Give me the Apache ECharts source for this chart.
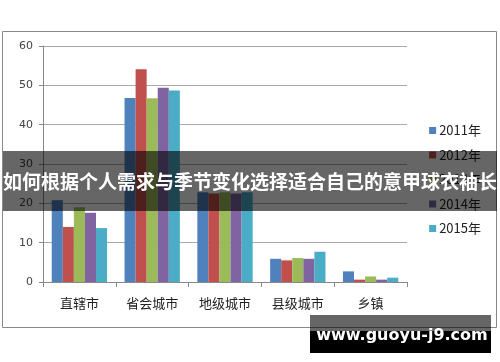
<!DOCTYPE html>
<html><head><meta charset="utf-8">
<script src="https://cdn.jsdelivr.net/npm/echarts@6/dist/echarts.min.js"></script>
<style>html,body{margin:0;padding:0;background:#fff}#c{width:500px;height:362px}</style>
</head><body><div id="c"></div>
<script>
const categories = ['直辖市','省会城市','地级城市','县级城市','乡镇'];
const seriesNames = ['2011年','2012年','2013年','2014年','2015年'];
const s2011 = [20.8, 46.8, 22.8, 5.9, 2.7];
const s2012 = [14.0, 54.1, 22.5, 5.5, 0.6];
const s2013 = [19.0, 46.7, 22.8, 6.1, 1.4];
const s2014 = [17.6, 49.4, 22.5, 5.9, 0.6];
const s2015 = [13.7, 48.7, 22.8, 7.7, 1.1];
const colors = ['#4F81BD','#C0504D','#9BBB59','#8064A2','#4BACC6'];
const titleText = '如何根据个人需求与季节变化选择适合自己的意甲球衣袖长';
const watermark = 'www.guoyu-j9.com';

const values = [s2011, s2012, s2013, s2014, s2015];
const chart = echarts.init(document.getElementById('c'), null, {renderer:'canvas'});
chart.setOption({
  animation: false,
  color: colors,
  grid: {left: 43, right: 93, top: 46, bottom: 80},
  legend: {
    orient: 'vertical', right: 14, top: 119,
    itemWidth: 7, itemHeight: 7, itemGap: 11.5,
    icon: 'rect',
    textStyle: {fontFamily: 'Noto Sans CJK SC', fontSize: 13, color: '#222', padding: [0,0,0,-2]},
    data: seriesNames
  },
  xAxis: {
    type: 'category', data: categories,
    axisLine: {lineStyle: {color: '#888'}},
    axisTick: {show: true, length: 5, lineStyle: {color: '#888'}},
    axisLabel: {fontFamily: 'Noto Sans CJK SC', fontSize: 13, color: '#222', margin: 15}
  },
  yAxis: {
    type: 'value', min: 0, max: 60, interval: 10,
    axisLine: {show: true, lineStyle: {color: '#888'}},
    axisTick: {show: true, length: 4, lineStyle: {color: '#888'}},
    axisLabel: {fontFamily: 'DejaVu Sans', fontSize: 11, color: '#444', margin: 10},
    splitLine: {lineStyle: {color: '#aaa'}}
  },
  series: values.map((v, i) => ({
    name: seriesNames[i], type: 'bar', data: v,
    barGap: '0%', barCategoryGap: '24%'
  })),
  graphic: [
    {type:'rect', z: 0, silent: true, shape:{x:2.5, y:31.5, width:494, height:296}, style:{fill:'none', stroke:'#888', lineWidth:1}},
    {type:'rect', z: 100, shape:{x:3, y:151, width:494, height:60}, style:{fill:'rgba(0,0,0,0.6)'}},
    {type:'text', z: 101, style:{text:titleText, x:250, y:182, align:'center', verticalAlign:'middle', fill:'#fff', font:'bold 19px "Noto Sans CJK SC"'}},
    {type:'rect', z: 100, shape:{x:310, y:315, width:181, height:16}, style:{fill:'rgba(0,0,0,0.6)'}},
    {type:'rect', z: 100, shape:{x:310, y:331, width:181, height:22}, style:{fill:'#000'}},
    {type:'text', z: 101, style:{text:watermark, x:402, y:336, align:'center', verticalAlign:'middle', fill:'#fff', font:'bold 16px "DejaVu Sans"'}}
  ]
});
</script>
</body></html>
